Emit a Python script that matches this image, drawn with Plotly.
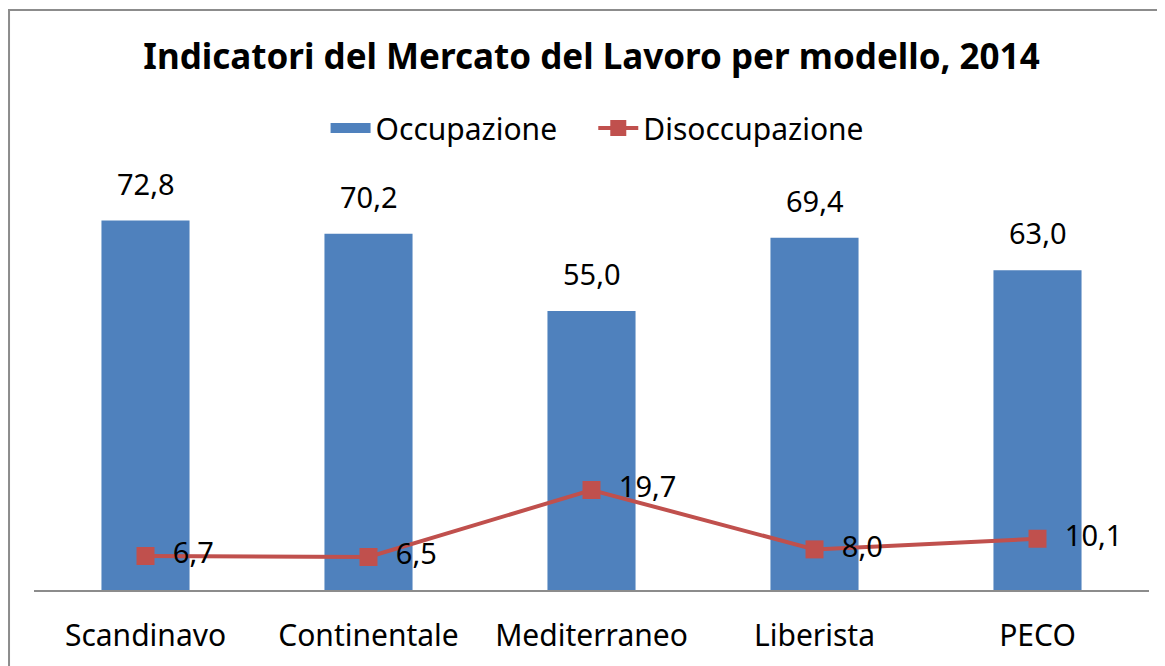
import plotly.graph_objects as go

# Data
categorie = ["Scandinavo", "Continentale", "Mediterraneo", "Liberista", "PECO"]
occupazione = [72.8, 70.2, 55.0, 69.4, 63.0]
disoccupazione = [6.7, 6.5, 19.7, 8.0, 10.1]

blu = "#4F81BD"
rosso = "#C0504D"
font_fam = "Noto Sans"

fig = go.Figure()

fig.add_trace(go.Bar(x=categorie, y=occupazione, name="Occupazione",
                     marker=dict(color=blu, line=dict(width=0)),
                     width=0.395, showlegend=False))

# Hack: legend entry for bars drawn as a wide block (nbsp pad the gap to next item)
fig.add_trace(go.Scatter(x=[None], y=[None], mode="lines",
                         name="Occupazione" + "\u00a0" * 4,
                         line=dict(color=blu, width=20)))

fig.add_trace(go.Scatter(x=categorie, y=disoccupazione, name="Disoccupazione",
                         mode="lines+markers+text",
                         line=dict(color=rosso, width=4),
                         marker=dict(symbol="square", size=18, color=rosso),
                         texttemplate="  %{y:.1f}", textposition="middle right",
                         textfont=dict(size=29, color="black", family=font_fam),
                         cliponaxis=False))

# Bar value labels above the bars
for c, v in zip(categorie, occupazione):
    fig.add_annotation(x=c, y=v, text=f"{v:.1f}".replace(".", ","),
                       showarrow=False, yanchor="bottom", yshift=16,
                       font=dict(size=29, color="black", family=font_fam))

# Chart border
fig.add_shape(type="rect", xref="paper", yref="paper",
              x0=-0.0224, x1=1.06, y0=-0.3, y1=1.4286,
              line=dict(color="#8C8C8C", width=2), layer="below")

fig.update_layout(width=1165, height=666,
                  separators=",.",
                  plot_bgcolor="white", paper_bgcolor="white",
                  font=dict(family=font_fam, size=29, color="black"),
                  title=dict(text="<b>Indicatori del Mercato del Lavoro per modello, 2014</b>",
                             x=0.5, xanchor="center", xref="paper",
                             y=0.9264, yanchor="middle", yref="container",
                             font=dict(size=35, family=font_fam, color="black")),
                  legend=dict(orientation="h", x=0.505, xanchor="center",
                              y=1.138, yanchor="middle",
                              font=dict(size=30, family=font_fam),
                              itemwidth=40, tracegroupgap=0),
                  margin=dict(l=26, r=24, t=176, b=84),
                  xaxis=dict(showline=True, linecolor="#8C8C8C", linewidth=2,
                             ticks="", tickfont=dict(size=30),
                             ticklabelstandoff=18),
                  yaxis=dict(range=[0, 80], visible=False, showgrid=False))

fig.write_html("out.html")
